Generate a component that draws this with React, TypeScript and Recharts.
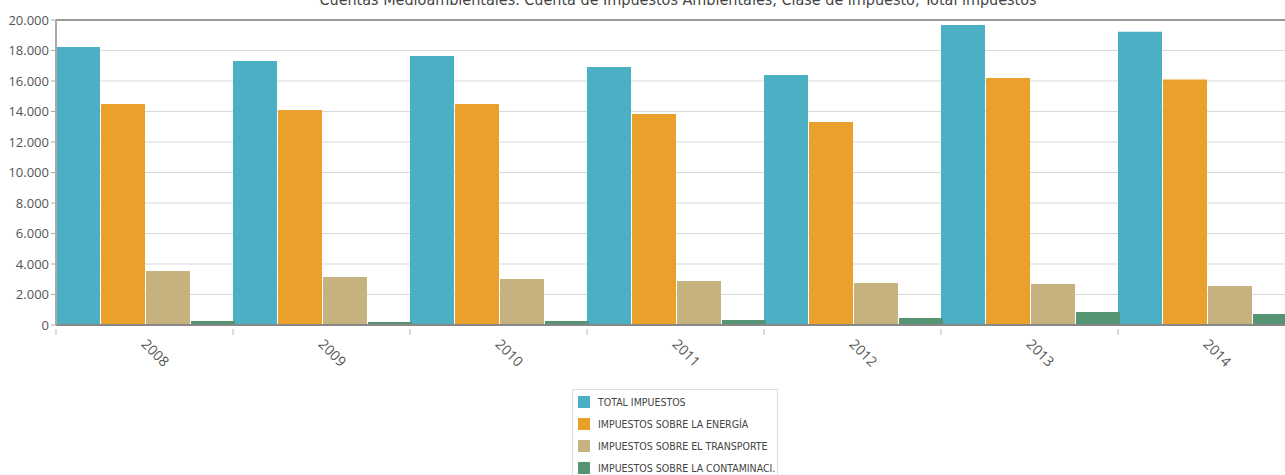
import React from "react";
import {
  Bar,
  BarChart,
  CartesianGrid,
  XAxis,
  YAxis,
  ReferenceLine,
} from "recharts";

const years = ["2008", "2009", "2010", "2011", "2012", "2013", "2014"];
const totalImpuestos = [18230, 17310, 17640, 16920, 16390, 19670, 19230];
const energia = [14490, 14100, 14490, 13840, 13310, 16200, 16100];
const transporte = [3540, 3150, 3020, 2890, 2750, 2690, 2560];
const contaminacion = [260, 200, 260, 330, 460, 850, 720];
const yTicks = [0, 2000, 4000, 6000, 8000, 10000, 12000, 14000, 16000, 18000, 20000];

const series = [
  { key: "total", name: "TOTAL IMPUESTOS", color: "#4bb0c4" },
  { key: "energia", name: "IMPUESTOS SOBRE LA ENERGÍA", color: "#e9a12b" },
  { key: "transporte", name: "IMPUESTOS SOBRE EL TRANSPORTE", color: "#c6b27f" },
  { key: "contaminacion", name: "IMPUESTOS SOBRE LA CONTAMINACI.", color: "#559573" },
];

const title =
  "Cuentas Medioambientales. Cuenta de Impuestos Ambientales, Clase de impuesto, Total impuestos";

const chartData = years.map((year, i) => ({
  year,
  total: totalImpuestos[i],
  energia: energia[i],
  transporte: transporte[i],
  contaminacion: contaminacion[i],
}));

const FONT = "'Open Sans', sans-serif";
const NARROW = "'DejaVu Sans Condensed', 'Open Sans', sans-serif";
const CHART_W = 1300;
const LEFT = 56;
const RIGHT_MARGIN = 5;
const catWidth = (CHART_W - LEFT - RIGHT_MARGIN) / years.length;

const fmt = (v: number) => v.toLocaleString("de-DE");

// rotated year labels plus a small separator tick at each category boundary
const YearTick = (props: any) => {
  const { x, y, payload } = props;
  return (
    <g>
      <line x1={x - catWidth / 2} y1={y - 4} x2={x - catWidth / 2} y2={y + 2} stroke="#bbb" />
      <text
        x={x - 4}
        y={y + 12}
        transform={`rotate(45, ${x - 4}, ${y + 12})`}
        textAnchor="start"
        fill="#555"
        fontSize={14}
        fontFamily={FONT}
      >
        {payload.value}
      </text>
    </g>
  );
};

export default function App() {
  return (
    <div
      style={{
        position: "absolute",
        left: 0,
        top: 0,
        width: 1285,
        height: 475,
        overflow: "hidden",
        background: "#fff",
      }}
    >
      <BarChart
        width={CHART_W}
        height={475}
        data={chartData}
        margin={{ top: 20, right: RIGHT_MARGIN, bottom: 90, left: 0 }}
        barCategoryGap={0}
        barGap={1}
      >
        <text x={678} y={5} textAnchor="middle" fill="#444" fontSize={16} fontFamily={NARROW}>
          {title}
        </text>
        <CartesianGrid vertical={false} stroke="#d9d9d9" />
        <XAxis
          dataKey="year"
          height={60}
          tick={<YearTick />}
          tickLine={false}
          axisLine={{ stroke: "#888", strokeWidth: 2 }}
          interval={0}
        />
        <YAxis
          width={LEFT}
          domain={[0, 20000]}
          ticks={yTicks}
          tickFormatter={fmt}
          tick={{ fill: "#555", fontSize: 13, fontFamily: FONT }}
          tickLine={{ stroke: "#aaa" }}
          tickSize={5}
          axisLine={{ stroke: "#aaa", strokeWidth: 2 }}
        />
        <ReferenceLine y={20000} stroke="#999" strokeWidth={2} />
        <Bar dataKey="total" name={series[0].name} fill={series[0].color} isAnimationActive={false} />
        <Bar dataKey="energia" name={series[1].name} fill={series[1].color} isAnimationActive={false} />
        <Bar dataKey="transporte" name={series[2].name} fill={series[2].color} isAnimationActive={false} />
        <Bar dataKey="contaminacion" name={series[3].name} fill={series[3].color} isAnimationActive={false} />
      </BarChart>
      <div
        style={{
          position: "absolute",
          left: 572,
          top: 389,
          width: 206,
          height: 90,
          border: "1px solid #ddd",
          boxSizing: "border-box",
          padding: "1px 0 0 5px",
          fontFamily: NARROW,
          fontSize: 10.5,
          color: "#444",
          whiteSpace: "nowrap",
        }}
      >
        {series.map((s) => (
          <div key={s.key} style={{ display: "flex", alignItems: "center", height: 22 }}>
            <span
              style={{
                display: "inline-block",
                width: 12,
                height: 12,
                background: s.color,
                marginRight: 8,
                flexShrink: 0,
              }}
            />
            {s.name}
          </div>
        ))}
      </div>
    </div>
  );
}
